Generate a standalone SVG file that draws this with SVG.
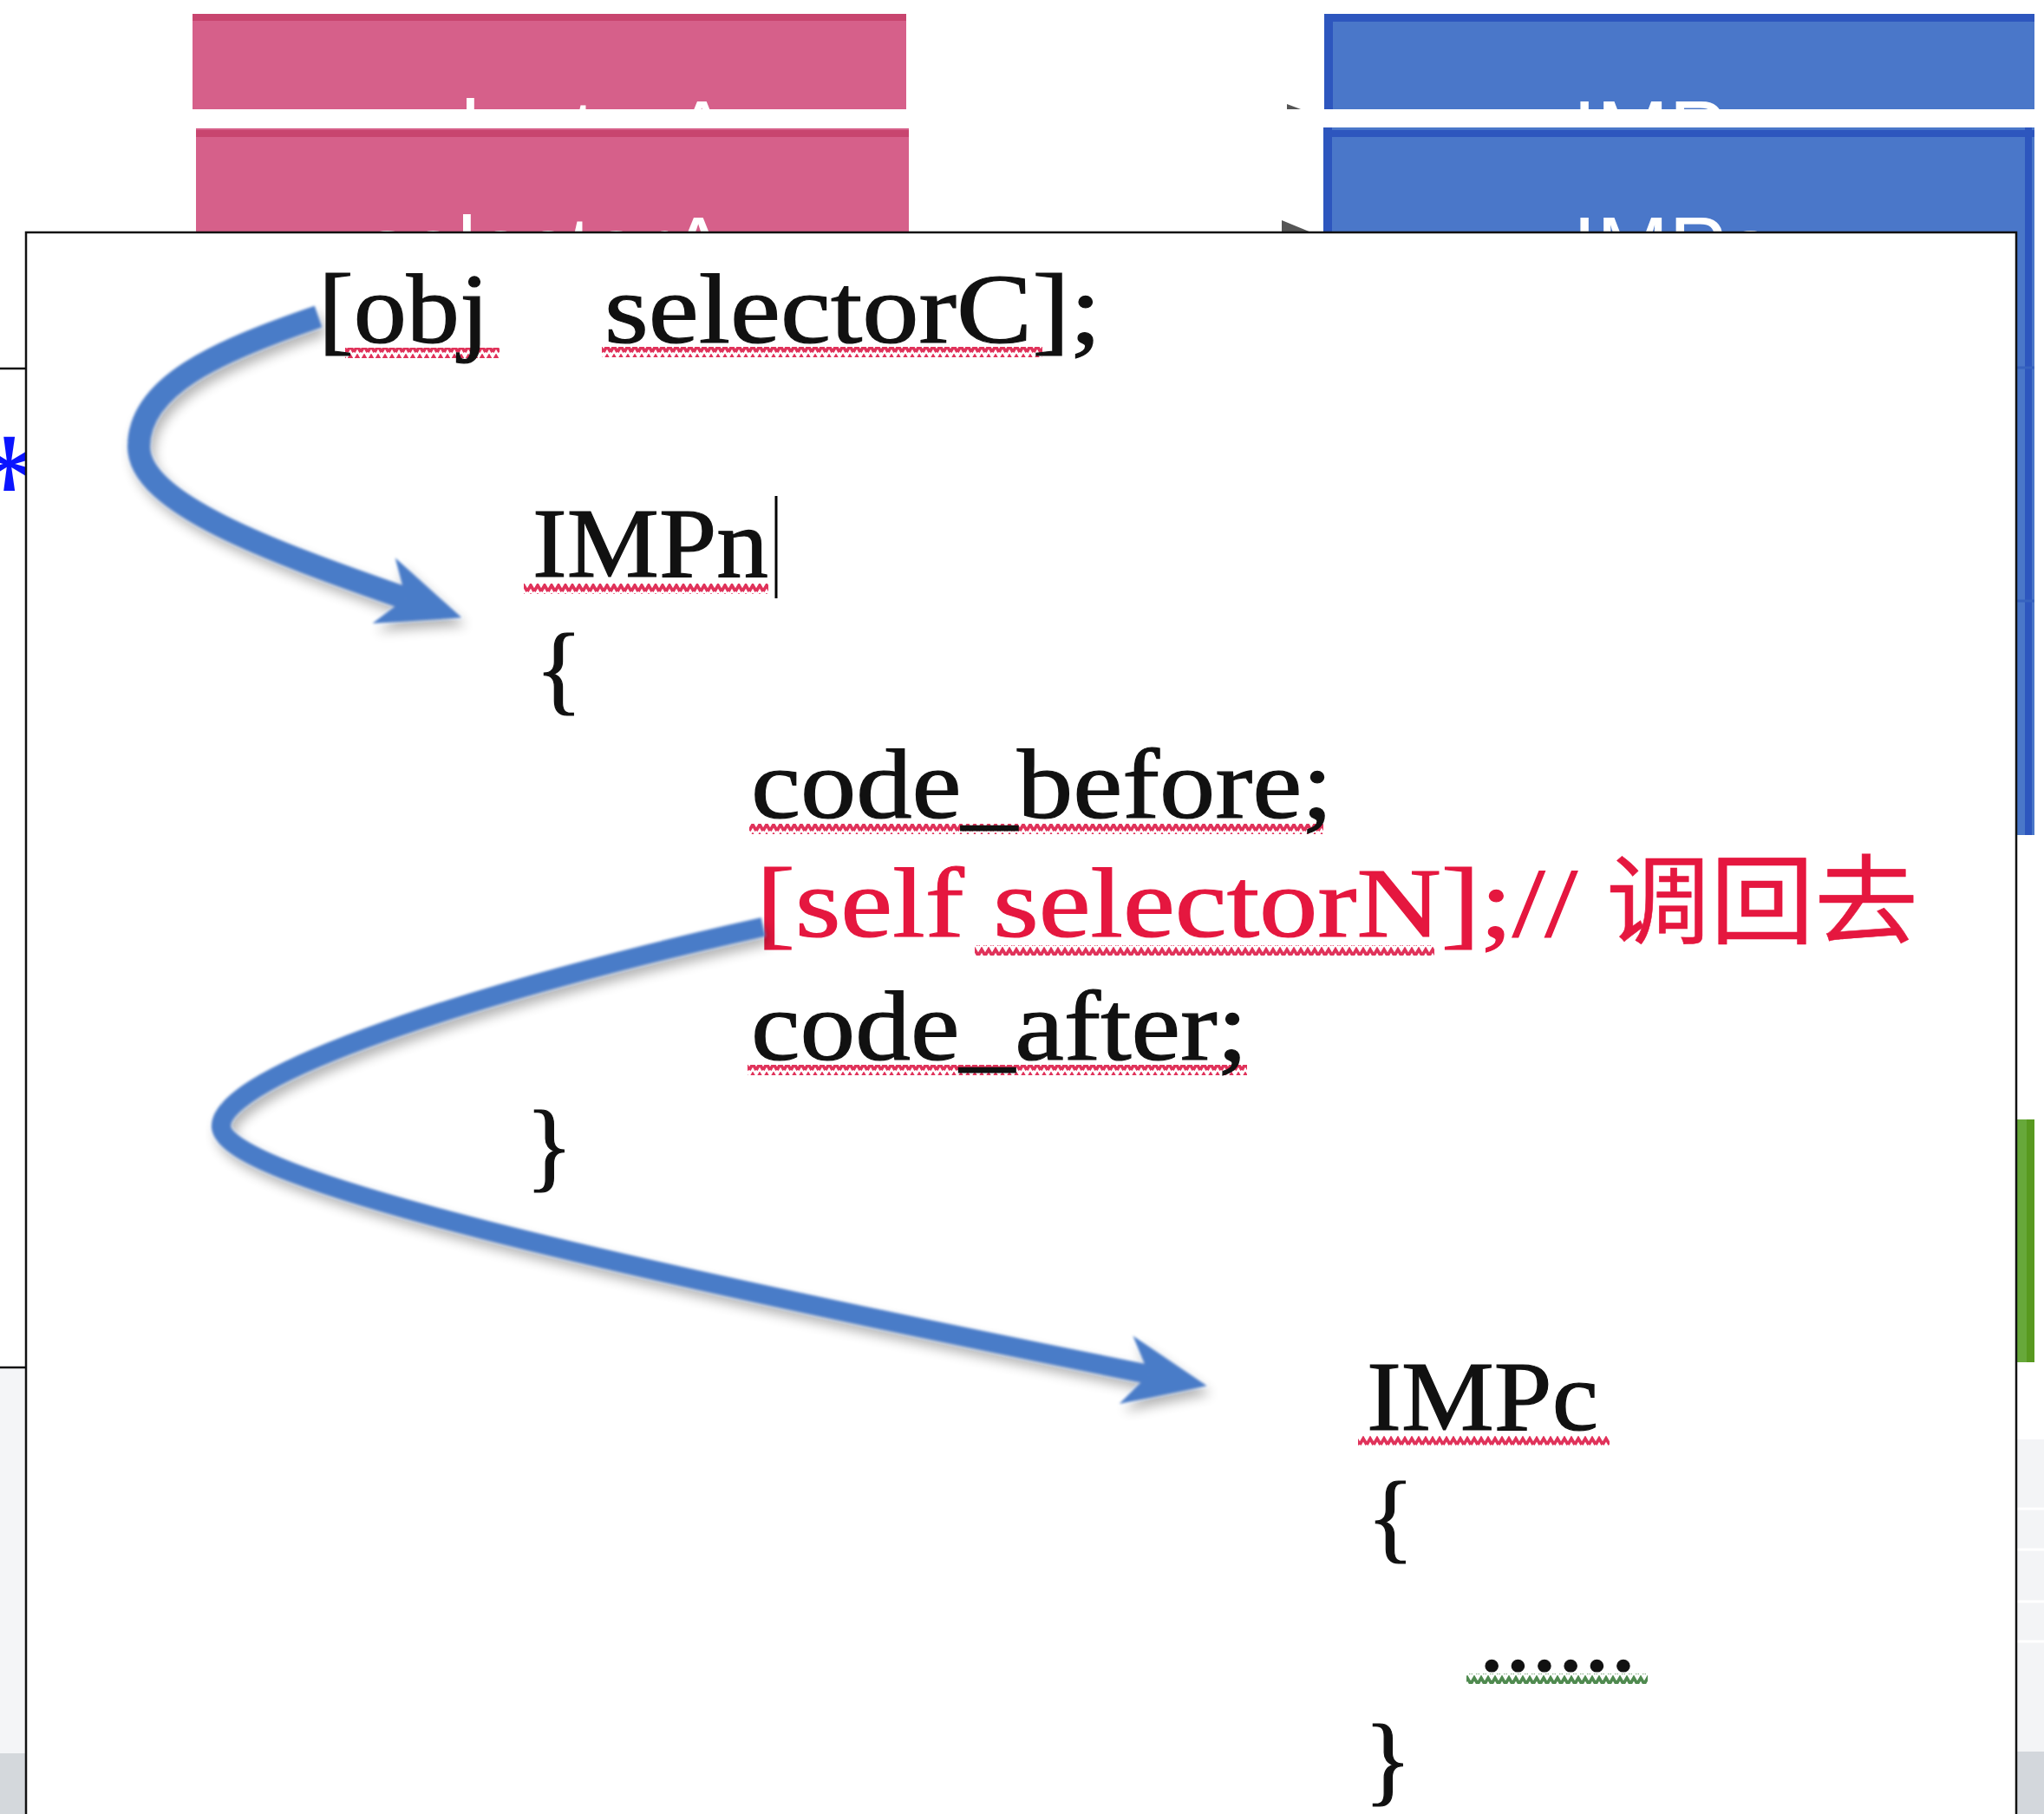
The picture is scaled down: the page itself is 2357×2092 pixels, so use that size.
<svg xmlns="http://www.w3.org/2000/svg" width="2357" height="2092" viewBox="0 0 2357 2092">
<style>
.code{font-family:"Liberation Serif","Noto Sans CJK SC",serif;font-size:114px;fill:#111;stroke:#111;stroke-width:1.2;}
.red{fill:#e5173f;stroke:#e5173f;}
.cjk{font-family:"Noto Sans CJK SC","Liberation Sans",sans-serif;stroke-width:0.6;}
.lbl{font-family:"Liberation Sans",Arial,sans-serif;font-size:100px;fill:#fff;text-anchor:middle;}
.pink{fill:#d6608a;}
.pinkTop{fill:#c8456f;}
.blue{fill:#4a77c9;}
.blueTop{fill:#2d56be;}
.edge{stroke:#111;stroke-width:2.5;fill:none;}
.arrow{fill:none;stroke:#4a7bc8;stroke-linecap:butt;}
</style>
<defs>
<pattern id="wavyR" width="8" height="12" patternUnits="userSpaceOnUse">
<path d="M0,10 L4,3 L8,10" fill="none" stroke="#e0325a" stroke-width="3.6"/>
</pattern>
<pattern id="wavyG" width="8" height="12" patternUnits="userSpaceOnUse">
<path d="M0,10 L4,3 L8,10" fill="none" stroke="#4f8a4f" stroke-width="3.6"/>
</pattern>
<marker id="head" markerUnits="userSpaceOnUse" markerWidth="120" markerHeight="100" viewBox="-100 -50 110 100" refX="-68" refY="0" orient="auto">
<path d="M0,0 L-95,-40 L-68,0 L-95,40 Z" fill="#4a7bc8"/>
</marker>
<filter id="soft" x="-20%" y="-20%" width="150%" height="150%">
<feGaussianBlur in="SourceAlpha" stdDeviation="7" result="b"/>
<feOffset in="b" dx="5" dy="9" result="o"/>
<feComponentTransfer in="o" result="s"><feFuncA type="linear" slope="0.3"/></feComponentTransfer>
<feGaussianBlur in="SourceGraphic" stdDeviation="1.6" result="g"/>
<feMerge><feMergeNode in="s"/><feMergeNode in="g"/></feMerge>
</filter>
<clipPath id="clipP1"><rect x="222" y="16" width="823" height="110"/></clipPath>
<clipPath id="clipB1"><rect x="1527" y="16" width="819" height="110"/></clipPath>
<clipPath id="clipTop2"><rect x="0" y="148" width="2357" height="120"/></clipPath>
<clipPath id="clipLeft"><rect x="0" y="268" width="30" height="1300"/></clipPath>
</defs>
<rect x="0" y="0" width="2357" height="2092" fill="#fff"/>

<g id="bg-left">
<line x1="0" y1="425" x2="30" y2="425" class="edge"/>
<rect x="0" y="1578" width="30" height="444" fill="#f4f5f7"/>
<rect x="0" y="2022" width="30" height="70" fill="#d4d8dc"/>
<line x1="0" y1="1577" x2="30" y2="1577" class="edge"/>
<text x="-32" y="615" font-family="Liberation Serif,serif" font-size="170" fill="#0a14ff" clip-path="url(#clipLeft)">*</text>
</g>
<g id="bg-right">
<rect x="2326" y="1291" width="20" height="280" fill="#67a83a"/>
<rect x="2337" y="1291" width="9" height="280" fill="#58991f"/>
<rect x="2326" y="1660" width="31" height="362" fill="#f3f4f6"/>
<line x1="2326" y1="1740" x2="2357" y2="1740" stroke="#fff" stroke-width="3"/>
<line x1="2326" y1="1787" x2="2357" y2="1787" stroke="#fff" stroke-width="3"/>
<line x1="2326" y1="1847" x2="2357" y2="1847" stroke="#fff" stroke-width="3"/>
<line x1="2326" y1="1893" x2="2357" y2="1893" stroke="#fff" stroke-width="3"/>
<rect x="2326" y="2020" width="31" height="72" fill="#d3d7dc"/>
</g>

<g id="selector-box-1">
<rect x="222" y="16" width="823" height="110" class="pink"/>
<rect x="222" y="16" width="823" height="8" class="pinkTop"/>
<text x="634" y="186" class="lbl" clip-path="url(#clipP1)">selectorA</text>
</g>
<g id="imp-box-1">
<rect x="1527" y="16" width="819" height="110" class="blue"/>
<rect x="1527" y="16" width="819" height="9" class="blueTop"/>
<rect x="1527" y="16" width="10" height="110" class="blueTop"/>
<text x="1930" y="186" class="lbl" clip-path="url(#clipB1)">IMPa</text>
</g>
<g id="selector-box-2">
<rect x="226" y="148" width="822" height="200" class="pink"/>
<rect x="226" y="150" width="822" height="8" class="pinkTop"/>
<text x="630" y="320" class="lbl" clip-path="url(#clipTop2)">selectorA</text>
</g>
<g id="imp-box-2">
<rect x="1526" y="147" width="820" height="816" class="blue"/>
<rect x="1526" y="150" width="820" height="8" class="blueTop"/>
<rect x="1526" y="147" width="10" height="200" class="blueTop"/>
<rect x="2335" y="147" width="8" height="816" class="blueTop"/>
<line x1="2326" y1="424" x2="2346" y2="424" stroke="#3763bf" stroke-width="3"/>
<line x1="2326" y1="693" x2="2346" y2="693" stroke="#3763bf" stroke-width="3"/>
<text x="1930" y="320" class="lbl" clip-path="url(#clipTop2)">IMPa</text>
</g>
<g id="tips" fill="#555">
<polygon points="1484,120 1500,126 1484,126"/>
<polygon points="1478,254 1512,268 1478,268"/>
</g>

<g id="code-panel">
<rect x="30" y="268" width="2295" height="1840" fill="#fff" stroke="#111" stroke-width="2.5"/>
</g>

<g id="line-call">
<rect x="398" y="401" width="178" height="12" fill="url(#wavyR)"/>
<rect x="694" y="400" width="508" height="12" fill="url(#wavyR)"/>
<text class="code" y="395"><tspan x="367" textLength="197" lengthAdjust="spacingAndGlyphs">[obj</tspan><tspan x="697" textLength="573" lengthAdjust="spacingAndGlyphs">selectorC];</tspan></text>
</g>
<g id="impn">
<rect x="604" y="673" width="282" height="12" fill="url(#wavyR)"/>
<text class="code" x="614" y="665" textLength="272" lengthAdjust="spacingAndGlyphs">IMPn</text>
<line x1="895" y1="572" x2="895" y2="690" stroke="#000" stroke-width="3"/>
<text class="code" x="617" y="810">{</text>
</g>
<g id="code-before">
<rect x="864" y="950" width="662" height="12" fill="url(#wavyR)"/>
<text class="code" x="866" y="943" textLength="671" lengthAdjust="spacingAndGlyphs">code_before;</text>
</g>
<g id="self-call">
<rect x="1124" y="1090" width="530" height="12" fill="url(#wavyR)"/>
<text class="code red" y="1080"><tspan x="872" textLength="947" lengthAdjust="spacingAndGlyphs">[self selectorN];//</tspan><tspan x="1852" class="cjk" font-size="112" textLength="360" lengthAdjust="spacingAndGlyphs">调回去</tspan></text>
</g>
<g id="code-after">
<rect x="862" y="1228" width="576" height="12" fill="url(#wavyR)"/>
<text class="code" x="866" y="1222" textLength="573" lengthAdjust="spacingAndGlyphs">code_after;</text>
<text class="code" x="606" y="1360">}</text>
</g>
<g id="impc">
<rect x="1566" y="1655" width="290" height="12" fill="url(#wavyR)"/>
<text class="code" x="1576" y="1649" textLength="267" lengthAdjust="spacingAndGlyphs">IMPc</text>
<text class="code" x="1576" y="1788">{</text>
<rect x="1691" y="1930" width="209" height="12" fill="url(#wavyG)"/>
<text class="code" x="1705" y="1926" textLength="182" lengthAdjust="spacingAndGlyphs">......</text>
<text class="code" x="1573" y="2068">}</text>
</g>

<g id="connectors" filter="url(#soft)">
<path class="arrow" stroke-width="26" d="M367,365 C250,405 160,445 160,515 C160,580 310,635 468,690" marker-end="url(#head)"/>
<path class="arrow" stroke-width="22" d="M880,1069 C560,1140 250,1240 255,1300 C262,1360 700,1460 1325,1585" marker-end="url(#head)"/>
</g>
</svg>
